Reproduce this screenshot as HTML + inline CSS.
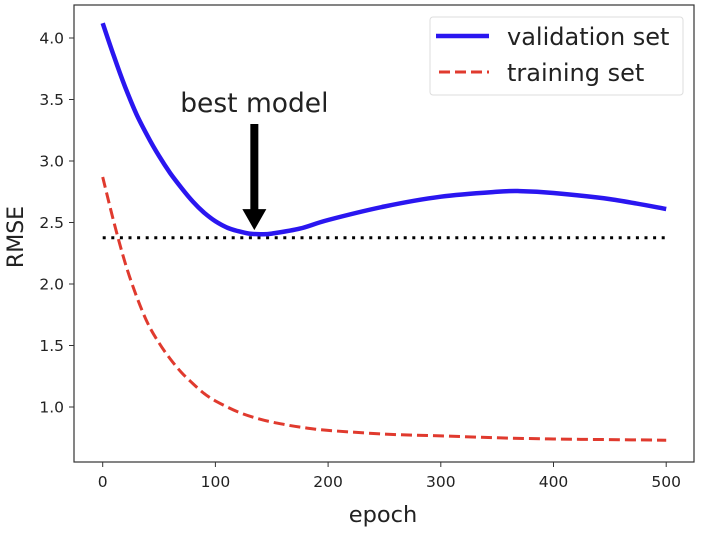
<!DOCTYPE html>
<html><head><meta charset="utf-8"><style>
body{margin:0;background:#fff}
svg text{font-family:"DejaVu Sans","Liberation Sans",sans-serif;fill:#222}
</style></head><body>
<svg width="703" height="529" viewBox="0 0 703 529">
<g id="plot"></g>
</svg>
<script>
const epochs=[0,10,20,30,40,50,60,70,80,90,100,110,120,130,140,150,175,200,250,300,350,370,400,450,500];
const validation=[4.12,3.85,3.6,3.38,3.2,3.04,2.9,2.78,2.67,2.58,2.51,2.46,2.43,2.41,2.405,2.41,2.45,2.52,2.63,2.71,2.75,2.755,2.74,2.69,2.61];
const trainEpochs=[0,10,20,30,40,50,60,70,80,90,100,120,140,160,180,200,250,300,350,400,450,500];
const training=[2.87,2.5,2.17,1.9,1.68,1.52,1.39,1.28,1.19,1.11,1.05,0.96,0.9,0.86,0.83,0.81,0.78,0.765,0.75,0.74,0.735,0.73];
const bestLevel=2.376;
const bestEpoch=135;
const xTicks=[0,100,200,300,400,500];
const yTicks=[1.0,1.5,2.0,2.5,3.0,3.5,4.0];
const X=v=>102.7+v*1.127;
const Y=v=>38+(4-v)*123;
const NS="http://www.w3.org/2000/svg";
const g=document.getElementById('plot');
function mk(tag,attrs,parent){const e=document.createElementNS(NS,tag);for(const k in attrs)e.setAttribute(k,attrs[k]);(parent||g).appendChild(e);return e;}
let f=mk('rect',{x:74,y:5,width:620,height:457,fill:'none',stroke:'#333','stroke-width':1.2});


xTicks.forEach(t=>{const x=X(t);
 let l=mk('line',{x1:x,x2:x,y1:462,y2:467,stroke:'#333'});
 
 
 let tx=mk('text',{x:x,y:487,'text-anchor':'middle','font-size':15.5});tx.textContent=t;
 
 
});
yTicks.forEach(t=>{const y=Y(t);
 let l=mk('line',{x1:69,x2:74,y1:y,y2:y,stroke:'#333'});
 
 
 let tx=mk('text',{x:64,y:y+5.5,'text-anchor':'end','font-size':15.5});tx.textContent=t.toFixed(1);
 
 
});
function path(xs,ys){
 const p=xs.map((e,i)=>[X(e),Y(ys[i])]);
 let s='M'+p[0][0].toFixed(1)+','+p[0][1].toFixed(1);
 for(let i=0;i<p.length-1;i++){
  const p0=p[Math.max(i-1,0)],p1=p[i],p2=p[i+1],p3=p[Math.min(i+2,p.length-1)];
  const c1=[p1[0]+(p2[0]-p0[0])/6,p1[1]+(p2[1]-p0[1])/6];
  const c2=[p2[0]-(p3[0]-p1[0])/6,p2[1]-(p3[1]-p1[1])/6];
  s+='C'+c1.map(v=>v.toFixed(1)).join(',')+' '+c2.map(v=>v.toFixed(1)).join(',')+' '+p2.map(v=>v.toFixed(1)).join(',');
 }
 return s;
}
let d=mk('line',{x1:X(0),x2:X(500),y1:Y(bestLevel),y2:Y(bestLevel),stroke:'#000','stroke-width':3,'stroke-dasharray':'3 5.6'});


let tr=mk('path',{d:path(trainEpochs,training),fill:'none',stroke:'#e03a2e','stroke-width':3,'stroke-dasharray':'11 5'});


let va=mk('path',{d:path(epochs,validation),fill:'none',stroke:'#2a16f0','stroke-width':4.5,'stroke-linejoin':'round'});


const ax=X(bestEpoch)-0.5, tip=Y(2.405)-4;
let ar=mk('path',{d:`M${ax-4},124 L${ax+4},124 L${ax+4},${tip-21} L${ax+12},${tip-21} L${ax},${tip} L${ax-12},${tip-21} L${ax-4},${tip-21} Z`,fill:'#000'});


let bt=mk('text',{x:ax,y:112,'text-anchor':'middle','font-size':26.5});bt.textContent='best model';


let xl=mk('text',{x:383,y:522,'text-anchor':'middle','font-size':22.5});xl.textContent='epoch';


let yl=mk('text',{x:0,y:0,'text-anchor':'middle','font-size':22,transform:'translate(23,237) rotate(-90)'});yl.textContent='RMSE';


let lg=mk('g',{});


mk('rect',{x:430,y:17,width:253,height:78,rx:3,fill:'#fff',stroke:'#ddd'},lg);
let e1=mk('g',{},lg);


mk('line',{x1:436,x2:489,y1:36,y2:36,stroke:'#2a16f0','stroke-width':4.5},e1);
let t1=mk('text',{x:507,y:45,'font-size':24},e1);t1.textContent='validation set';
let e2=mk('g',{},lg);


mk('line',{x1:439,x2:489,y1:72,y2:72,stroke:'#e03a2e','stroke-width':3,'stroke-dasharray':'11 5'},e2);
let t2=mk('text',{x:507,y:81,'font-size':24},e2);t2.textContent='training set';
</script>
</body></html>
